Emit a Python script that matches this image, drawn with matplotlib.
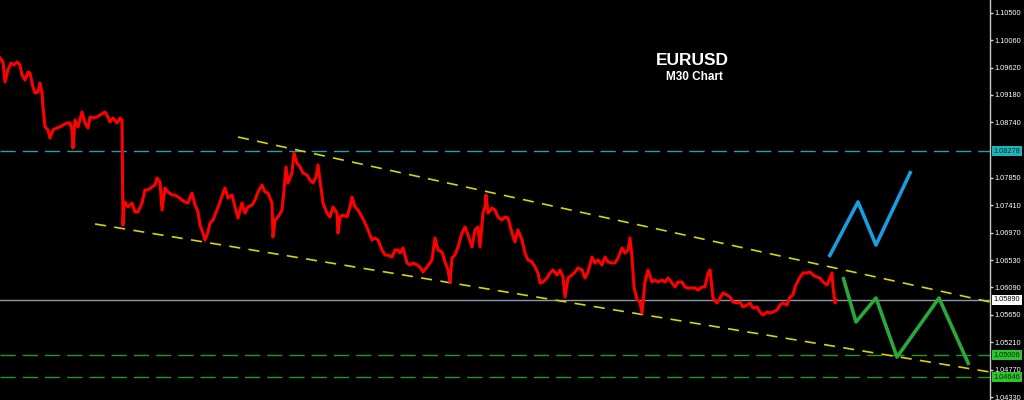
import matplotlib
matplotlib.use("Agg")
import matplotlib.pyplot as plt

plt.rcParams['lines.scale_dashes'] = False

# ---------------- data ----------------
bars = [0, 3, 5, 8, 11, 14, 17, 20, 22, 25, 28, 30, 33, 35, 38, 40, 42, 43, 45, 48,
        50, 53, 57, 60, 63, 67, 70, 72, 73, 75, 78, 82, 85, 88, 90, 93, 97, 100, 105, 108,
        110, 113, 117, 120, 122,
        123, 124, 125, 128, 132, 135, 138, 142, 145, 148, 152, 155, 157, 160, 162, 165, 168, 172, 175, 178,
        182, 185, 188, 192, 195, 198, 200, 203, 205, 208, 210, 213, 217, 220, 223, 225, 228, 232, 235, 238,
        242, 245, 248, 252, 255, 258, 262, 265, 268, 272,
        273, 275, 278, 282, 284, 286, 288, 292, 294, 297, 300, 303, 307, 310, 313, 316, 318, 320, 323, 327,
        330, 333, 337, 338, 340, 343, 347, 350, 352, 355, 358, 362, 365, 368, 372, 375, 378, 382, 385, 388,
        392, 395, 398, 400, 403, 407, 410, 413, 417, 420, 423, 427, 430,
        432, 435, 438, 442, 445, 448, 450, 452, 455, 458, 462, 465, 468, 472, 475, 478, 480, 483, 485, 486,
        488, 492, 495, 498, 502, 505, 508, 512, 515, 518, 522, 525, 528, 532, 535, 538, 540, 543, 547, 550,
        553, 557, 560, 563, 565, 568,
        572, 575, 578, 582, 585, 588, 592, 595, 598, 602, 605, 608, 612, 615, 618, 622, 625, 628, 630, 632,
        634, 637, 640, 642, 645, 648, 652, 655, 658, 662, 665, 668, 672, 675, 678, 682, 685, 688, 692, 695,
        698, 702, 705, 708, 710, 713, 717, 720, 723, 727, 730, 733, 737, 740, 743, 747, 750, 753, 757, 760,
        763, 767, 770, 773, 777, 780, 783, 787, 790, 793, 795, 797, 800, 803, 807, 810, 813, 817, 820, 823,
        827, 830, 832, 833, 835, 836]

close = [1.09773, 1.09709, 1.09388, 1.09581, 1.09693, 1.09661, 1.09709, 1.09661, 1.09500, 1.09420,
         1.09548, 1.09532, 1.09308, 1.09211, 1.09227, 1.09372, 1.09211, 1.08987, 1.08666, 1.08618,
         1.08489, 1.08618, 1.08650, 1.08666, 1.08698, 1.08730, 1.08730, 1.08618, 1.08329, 1.08778,
         1.08666, 1.08906, 1.08730, 1.08650, 1.08826, 1.08810, 1.08826, 1.08858, 1.08906, 1.08826,
         1.08746, 1.08810, 1.08730, 1.08810, 1.08778,
         1.07093, 1.07414, 1.07462, 1.07382, 1.07446, 1.07301, 1.07301, 1.07446, 1.07655, 1.07655,
         1.07703, 1.07735, 1.07847, 1.07783, 1.07334, 1.07687, 1.07622, 1.07574, 1.07574, 1.07542,
         1.07494, 1.07462, 1.07446, 1.07606, 1.07414, 1.07301, 1.07093, 1.06964, 1.06852, 1.06980,
         1.07125, 1.07173, 1.07334, 1.07462, 1.07606, 1.07687, 1.07526, 1.07574, 1.07382, 1.07205,
         1.07446, 1.07285, 1.07382, 1.07414, 1.07494, 1.07622, 1.07735, 1.07622, 1.07606, 1.07446,
         1.06900, 1.07173, 1.07221, 1.07334, 1.07655, 1.08024, 1.07767, 1.07927, 1.08248, 1.08088,
         1.08024, 1.07927, 1.07895, 1.07815, 1.07767, 1.07863, 1.08056, 1.07815, 1.07446, 1.07285,
         1.07221, 1.07382, 1.07285, 1.06964, 1.07221, 1.07253, 1.07221, 1.07382, 1.07542, 1.07382,
         1.07334, 1.07221, 1.07125, 1.07013, 1.06852, 1.06884, 1.06852, 1.06692, 1.06611, 1.06611,
         1.06579, 1.06692, 1.06692, 1.06643, 1.06724, 1.06483, 1.06451, 1.06483, 1.06451, 1.06419,
         1.06338, 1.06419, 1.06483,
         1.06531, 1.06884, 1.06692, 1.06659, 1.06499, 1.06371, 1.06178, 1.06563, 1.06611, 1.06740,
         1.06964, 1.07061, 1.06932, 1.06740, 1.07013, 1.07061, 1.06740, 1.07285, 1.07382, 1.07574,
         1.07285, 1.07366, 1.07334, 1.07221, 1.07173, 1.07221, 1.07205, 1.06964, 1.06820, 1.07013,
         1.06852, 1.06643, 1.06531, 1.06499, 1.06419, 1.06322, 1.06162, 1.06178, 1.06242, 1.06322,
         1.06371, 1.06290, 1.06371, 1.06258, 1.05937, 1.06242,
         1.06290, 1.06338, 1.06403, 1.06371, 1.06242, 1.06338, 1.06579, 1.06483, 1.06531, 1.06451,
         1.06579, 1.06499, 1.06483, 1.06483, 1.06563, 1.06724, 1.06643, 1.06692, 1.06884, 1.06579,
         1.06098, 1.05889, 1.05857, 1.05680, 1.06178, 1.06371, 1.06178, 1.06210, 1.06178, 1.06210,
         1.06178, 1.06242, 1.06162, 1.06098, 1.06178, 1.06178, 1.06098, 1.06082, 1.06082, 1.06082,
         1.06050, 1.06098, 1.06098, 1.06322, 1.06371, 1.05921, 1.05841, 1.05921, 1.06001, 1.05969,
         1.05937, 1.05857, 1.05841, 1.05857, 1.05777, 1.05809, 1.05841, 1.05761, 1.05777, 1.05696,
         1.05648, 1.05696, 1.05680, 1.05696, 1.05729, 1.05809, 1.05841, 1.05809, 1.05937, 1.05969,
         1.06098, 1.06162, 1.06258, 1.06322, 1.06322, 1.06338, 1.06290, 1.06258, 1.06242, 1.06178,
         1.06130, 1.06242, 1.06322, 1.06098, 1.05841, 1.05889]

# channel lines (bar, price)
upper_bars = [238, 990]
upper_prices = [1.08505, 1.05857]
lower_bars = [95, 990]
lower_prices = [1.07109, 1.04733]

# projected paths
blue_bars = [829, 858, 876, 911]
blue_prices = [1.06579, 1.07462, 1.06772, 1.07959]
green_bars = [843, 856, 876, 897, 939, 969]
green_prices = [1.06258, 1.05536, 1.05921, 1.04974, 1.05921, 1.04846]

# horizontal levels
resistance_level = 1.08278
current_price = 1.05890
support_levels = [1.05006, 1.04646]

tick_values = [1.10500, 1.10060, 1.09620, 1.09180, 1.08740, 1.07850, 1.07410,
               1.06970, 1.06530, 1.06090, 1.05650, 1.05210, 1.04770, 1.04330]
tick_labels = ["1.10500", "1.10060", "1.09620", "1.09180", "1.08740", "1.07850", "1.07410",
               "1.06970", "1.06530", "1.06090", "1.05650", "1.05210", "1.04770", "1.04330"]

title = "EURUSD"
subtitle = "M30 Chart"

# ---------------- figure ----------------
fig = plt.figure(figsize=(10.24, 4.0), dpi=100, facecolor='black')
ax = fig.add_axes([0, 0, 990 / 1024, 1.0])
ax.set_facecolor('black')
ax.set_xlim(0, 990)
ax.set_ylim(1.04284, 1.10704)

# horizontal levels
ax.axhline(resistance_level, color='#1ea3ad', lw=1.0, dashes=(11, 5), zorder=1)
for lv in support_levels:
    ax.axhline(lv, color='#1c9c1c', lw=1.0, dashes=(11, 5), zorder=1)
ax.axhline(current_price, color='#8e98ac', lw=1.0, zorder=1)

# channel
ax.plot(upper_bars, upper_prices, color='#d6d600', lw=1.2, dashes=(8, 6), zorder=2)
ax.plot(lower_bars, lower_prices, color='#d6d600', lw=1.2, dashes=(8, 6), zorder=2)

# price
ax.plot(bars, close, color='#ff0000', lw=2.2, zorder=3)

# projections
ax.plot(blue_bars, blue_prices, color='#1b9be0', lw=2.6, zorder=4, solid_capstyle='butt')
ax.plot(green_bars, green_prices, color='#2aa83a', lw=2.6, zorder=4, solid_capstyle='butt')

# titles
ax.text(692, 1.09740, title, color='white', fontsize=12.5, fontweight='bold',
        family='Liberation Sans', ha='center', va='center', zorder=5)
ax.text(694, 1.09470, subtitle, color='white', fontsize=8.5, fontweight='bold',
        family='Liberation Sans', ha='center', va='center', zorder=5)

# right axis
for s in ['top', 'bottom', 'left']:
    ax.spines[s].set_visible(False)
ax.spines['right'].set_color('#c8c8c8')
ax.spines['right'].set_linewidth(1.0)
ax.set_xticks([])
ax.yaxis.tick_right()
ax.set_yticks(tick_values)
ax.set_yticklabels(tick_labels)
ax.tick_params(axis='y', colors='#d0d0d0', labelcolor='white', length=2, width=1,
               direction='out', pad=1.5, labelsize=5.3)
for lbl in ax.get_yticklabels():
    lbl.set_family('Liberation Sans')

# highlighted price labels
def tag(val, fc, tc):
    ax.annotate(f"{val:.5f}", xy=(1.0, val), xycoords=('axes fraction', 'data'),
                xytext=(2.6, 0), textcoords='offset points', ha='left', va='center',
                fontsize=5.3, family='Liberation Sans', color=tc, zorder=6,
                bbox=dict(boxstyle='square,pad=0.2', fc=fc, ec='none'),
                annotation_clip=False)

tag(resistance_level, '#1eb4bc', '#0a2a2a')
tag(current_price, 'white', 'black')
for lv in support_levels:
    tag(lv, '#2fc42f', '#062a06')

fig.savefig('out.png', dpi=100, facecolor='black')
